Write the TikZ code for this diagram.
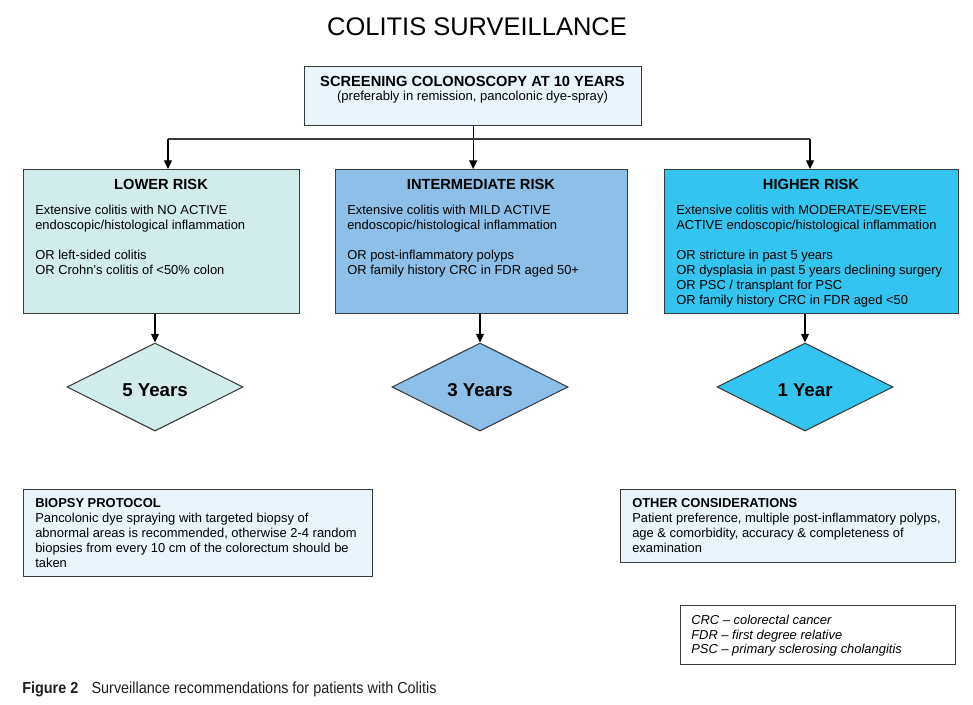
\documentclass[tikz,border=0pt]{standalone}
\usepackage{fontspec}
\setmainfont{Liberation Sans}
\newfontfamily\capfont[FakeStretch=0.9]{Liberation Sans}
\usetikzlibrary{shapes.geometric,arrows.meta}
\definecolor{paleblue}{HTML}{EAF5FB}
\definecolor{lowfill}{HTML}{D2ECEC}
\definecolor{midfill}{HTML}{8DBFE8}
\definecolor{highfill}{HTML}{33C4EF}
\definecolor{edge}{HTML}{3A3A3A}
\definecolor{captext}{HTML}{231F20}
\tikzset{
  box/.style={draw=edge,line width=0.8pt,inner sep=0pt,anchor=north west},
  head/.style={inner sep=0pt,font=\fontsize{11}{13}\selectfont\bfseries},
  body/.style={inner sep=0pt,anchor=north west,align=left,font=\fontsize{9.7}{11.25}\selectfont},
  dia/.style={diamond,draw=edge,line width=0.8pt,inner sep=0pt,minimum width=132pt,minimum height=66pt},
  dtext/.style={inner sep=0pt,font=\fontsize{14}{16}\selectfont\bfseries},
  arr/.style={draw=black,line width=0.8pt,-{Triangle[length=6.5pt,width=6pt]}},
  link/.style={draw=edge,line width=0.8pt}
}
\begin{document}
\begin{tikzpicture}[x=0.75pt,y=-0.75pt]
\useasboundingbox (0,0) rectangle (973,704);
% title
\node[inner sep=0pt,font=\fontsize{19.1}{22}\selectfont] (title) at (477,27) {COLITIS SURVEILLANCE};
% top box
\node[box,fill=paleblue,line width=1pt,minimum width=252.75pt,minimum height=44.25pt] (top) at (304,66) {};
\node[head] (toph) at (472.5,81) {SCREENING COLONOSCOPY AT 10 YEARS};
\node[inner sep=0pt,font=\fontsize{9.8}{12}\selectfont] (topb) at (472.5,97) {(preferably in remission, pancolonic dye-spray)};
% risk boxes
\node[box,fill=lowfill,minimum width=207pt,minimum height=108pt] (low) at (23,169) {};
\node[box,fill=midfill,minimum width=219pt,minimum height=108pt] (mid) at (335,169) {};
\node[box,fill=highfill,minimum width=220.5pt,minimum height=108pt] (high) at (664,169) {};
\node[head] (lowh) at (161,184) {LOWER RISK};
\node[head] (midh) at (481,184) {INTERMEDIATE RISK};
\node[head] (highh) at (811,184) {HIGHER RISK};
\node[body] (lowb) at (35,205) {Extensive colitis with NO ACTIVE\\endoscopic/histological inflammation\\[11.25pt]OR left-sided colitis\\OR Crohn’s colitis of <50\% colon};
\node[body] (midb) at (347,205) {Extensive colitis with MILD ACTIVE\\endoscopic/histological inflammation\\[11.25pt]OR post-inflammatory polyps\\OR family history CRC in FDR aged 50+};
\node[body] (highb) at (676,205) {Extensive colitis with MODERATE/SEVERE\\ACTIVE endoscopic/histological inflammation\\[11.25pt]OR stricture in past 5 years\\OR dysplasia in past 5 years declining surgery\\OR PSC / transplant for PSC\\OR family history CRC in FDR aged <50};
% connectors from top
\coordinate (hl) at (168,139);
\coordinate (hr) at (810,139);
\draw[arr] (top.south) -- (top.south |- mid.north);
\draw[link] (hl) -- (hr);
\draw[arr] (hl) -- (hl |- low.north);
\draw[arr] (hr) -- (hr |- high.north);
% diamonds
\node[dia,fill=lowfill] (d5) at (155,387) {};
\node[dia,fill=midfill] (d3) at (480,387) {};
\node[dia,fill=highfill] (d1) at (805,387) {};
\node[dtext] (t5) at ([yshift=-2.2pt]d5.center) {5 Years};
\node[dtext] (t3) at ([yshift=-2.2pt]d3.center) {3 Years};
\node[dtext] (t1) at ([yshift=-2.2pt]d1.center) {1 Year};
\draw[arr] (d5.north |- low.south) -- (d5.north);
\draw[arr] (d3.north |- mid.south) -- (d3.north);
\draw[arr] (d1.north |- high.south) -- (d1.north);
% biopsy protocol
\node[box,fill=paleblue,minimum width=261.75pt,minimum height=65.25pt] (bio) at (23,489) {};
\node[body] (biob) at (35,498) {\textbf{BIOPSY PROTOCOL}\\Pancolonic dye spraying with targeted biopsy of\\abnormal areas is recommended, otherwise 2-4 random\\biopsies from every 10 cm of the colorectum should be\\taken};
% other considerations
\node[box,fill=paleblue,minimum width=251.25pt,minimum height=54.75pt] (oth) at (620,489) {};
\node[body] (othb) at (632,498) {\textbf{OTHER CONSIDERATIONS}\\Patient preference, multiple post-inflammatory polyps,\\age \& comorbidity, accuracy \& completeness of\\examination};
% legend
\node[box,fill=white,minimum width=206.25pt,minimum height=44.25pt] (leg) at (680,605) {};
\node[body,font=\fontsize{9.7}{11}\selectfont\itshape] (legb) at (691,615) {CRC – colorectal cancer\\FDR – first degree relative\\PSC – primary sclerosing cholangitis};
% caption
\node[anchor=west,inner sep=0pt,text=captext,font=\capfont\fontsize{12}{14}\selectfont] (cap) at (22,689) {\textbf{Figure 2}\hspace{10pt}Surveillance recommendations for patients with Colitis};
\end{tikzpicture}
\end{document}
